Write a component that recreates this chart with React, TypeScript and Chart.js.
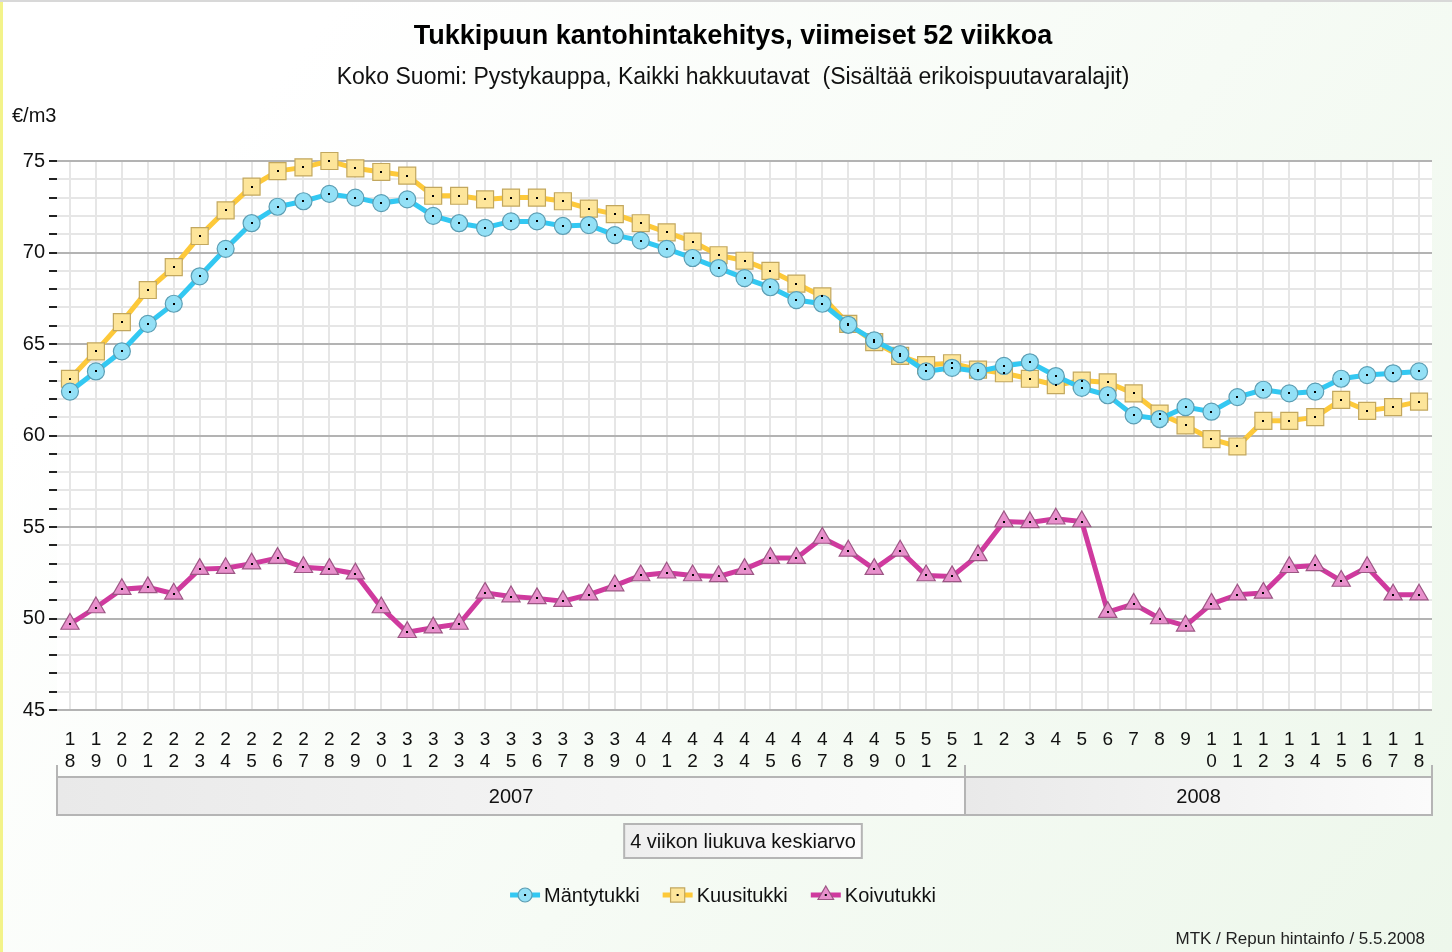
import React, { useEffect, useRef } from 'react';
import { Chart, registerables } from 'chart.js';

Chart.register(...registerables);

const FONT = "'Liberation Sans', Arial, Helvetica, sans-serif";

const weeks2007 = [18, 19, 20, 21, 22, 23, 24, 25, 26, 27, 28, 29, 30, 31, 32, 33, 34, 35, 36, 37, 38, 39, 40, 41, 42, 43, 44, 45, 46, 47, 48, 49, 50, 51, 52];
const weeks2008 = [1, 2, 3, 4, 5, 6, 7, 8, 9, 10, 11, 12, 13, 14, 15, 16, 17, 18];
const yearLabels = ['2007', '2008'];
const seriesNames = ['Mäntytukki', 'Kuusitukki', 'Koivutukki'];

const mantytukki = [
  62.4, 63.5, 64.6, 66.1, 67.2, 68.7, 70.2, 71.6, 72.5, 72.8, 73.2, 73.0, 72.7, 72.9, 72.0, 71.6, 71.35,
  71.7, 71.7, 71.45, 71.5, 70.95, 70.65, 70.2, 69.7, 69.15, 68.6, 68.1, 67.4, 67.2, 66.05, 65.2, 64.45, 63.5, 63.7,
  63.5, 63.8, 64.0, 63.25, 62.6, 62.2, 61.1, 60.9, 61.55, 61.3, 62.1, 62.5, 62.3, 62.4, 63.1, 63.3, 63.4, 63.5,
];
const kuusitukki = [
  63.1, 64.6, 66.2, 67.95, 69.2, 70.9, 72.3, 73.6, 74.45, 74.65, 75.0, 74.6, 74.4, 74.2, 73.1, 73.1, 72.9,
  73.0, 73.0, 72.8, 72.4, 72.1, 71.6, 71.1, 70.6, 69.85, 69.55, 69.0, 68.3, 67.6, 66.1, 65.1, 64.35, 63.85, 63.95,
  63.6, 63.4, 63.1, 62.75, 63.0, 62.9, 62.3, 61.2, 60.55, 59.8, 59.4, 60.8, 60.8, 61.0, 61.95, 61.35, 61.55, 61.85,
];
const koivutukki = [
  49.7, 50.6, 51.6, 51.7, 51.35, 52.7, 52.75, 53.0, 53.3, 52.8, 52.7, 52.45, 50.6, 49.25, 49.5, 49.7, 51.4,
  51.2, 51.1, 50.95, 51.3, 51.8, 52.35, 52.5, 52.35, 52.3, 52.7, 53.3, 53.3, 54.4, 53.7, 52.7, 53.7, 52.35, 52.3,
  53.45, 55.3, 55.25, 55.45, 55.3, 50.35, 50.8, 50.0, 49.6, 50.8, 51.3, 51.4, 52.8, 52.9, 52.05, 52.8, 51.3, 51.3,
];

const titleText = 'Tukkipuun kantohintakehitys, viimeiset 52 viikkoa';
const subtitleText = 'Koko Suomi: Pystykauppa, Kaikki hakkuutavat  (Sisältää erikoispuutavaralajit)';
const unitText = '€/m3';
const noteText = '4 viikon liukuva keskiarvo';
const creditText = 'MTK / Repun hintainfo / 5.5.2008';

const lineColors = ['#33c8f2', '#fdc93a', '#cf3a9e'];
const pointFills = ['#93e0f6', '#fde59a', '#e890cc'];
const pointBorders = ['#5b9db3', '#c2a75e', '#9c5684'];
const pointStyles = ['circle', 'rect', 'triangle'];
const pointRadii = [8.5, 12, 10.5];

const xLabels = [...weeks2007, ...weeks2008].map((w) => String(w).split(''));
const seriesData = [mantytukki, kuusitukki, koivutukki];

function drawMarker(ctx: CanvasRenderingContext2D, style: string, x: number, y: number, r: number, fill: string, stroke: string) {
  ctx.save();
  ctx.fillStyle = fill;
  ctx.strokeStyle = stroke;
  ctx.lineWidth = 1.2;
  ctx.beginPath();
  if (style === 'circle') {
    ctx.arc(x, y, r, 0, Math.PI * 2);
  } else if (style === 'rect') {
    const s = r * Math.SQRT1_2;
    ctx.rect(x - s, y - s, 2 * s, 2 * s);
  } else {
    ctx.moveTo(x, y - r);
    ctx.lineTo(x + r * 0.866, y + r * 0.5);
    ctx.lineTo(x - r * 0.866, y + r * 0.5);
    ctx.closePath();
  }
  ctx.fill();
  ctx.stroke();
  ctx.fillStyle = '#000';
  ctx.fillRect(x - 1, y - 1, 2, 2);
  ctx.restore();
}

const decorPlugin = {
  id: 'decor',
  beforeDraw(chart: any) {
    const { ctx, width, height, chartArea } = chart;
    ctx.save();
    const g = ctx.createLinearGradient(300, 50, width, height);
    g.addColorStop(0, '#ffffff');
    g.addColorStop(1, '#edf7eb');
    ctx.fillStyle = g;
    ctx.fillRect(0, 0, width, height);
    ctx.fillStyle = '#ffffff';
    ctx.fillRect(chartArea.left, chartArea.top, chartArea.right - chartArea.left, chartArea.bottom - chartArea.top);
    ctx.fillStyle = '#f3f38a';
    ctx.fillRect(0, 0, 3, height);
    ctx.fillStyle = '#d8d8d8';
    ctx.fillRect(0, 0, width, 2);
    ctx.restore();
  },
  afterDatasetsDraw(chart: any) {
    const { ctx } = chart;
    ctx.save();
    ctx.fillStyle = '#000';
    chart.data.datasets.forEach((_: any, i: number) => {
      const meta = chart.getDatasetMeta(i);
      meta.data.forEach((pt: any) => {
        ctx.fillRect(Math.round(pt.x) - 1, Math.round(pt.y) - 1, 2, 2);
      });
    });
    ctx.restore();
  },
  afterDraw(chart: any) {
    const { ctx, chartArea } = chart;
    const xs = chart.scales.x;
    ctx.save();
    ctx.fillStyle = '#111';
    ctx.font = `20px ${FONT}`;
    ctx.textAlign = 'left';
    ctx.textBaseline = 'middle';
    ctx.fillText(unitText, 12, 116);

    const n2007 = weeks2007.length;
    const split = (xs.getPixelForTick(n2007 - 1) + xs.getPixelForTick(n2007)) / 2;
    const bands = [
      [chartArea.left, split, yearLabels[0]],
      [split, chartArea.right, yearLabels[1]],
    ] as [number, number, string][];
    const bTop = chartArea.bottom + 67;
    const bBot = chartArea.bottom + 105;
    bands.forEach(([l, r, t]) => {
      const gg = ctx.createLinearGradient(l, 0, r, 0);
      gg.addColorStop(0, '#e9e9e9');
      gg.addColorStop(1, '#fbfbfb');
      ctx.fillStyle = gg;
      ctx.fillRect(l, bTop, r - l, bBot - bTop);
      ctx.strokeStyle = '#b5b5b5';
      ctx.lineWidth = 2;
      ctx.strokeRect(l, bTop, r - l, bBot - bTop);
      ctx.fillStyle = '#111';
      ctx.font = `20px ${FONT}`;
      ctx.textAlign = 'center';
      ctx.fillText(t, (l + r) / 2, (bTop + bBot) / 2 + 1);
    });
    ctx.strokeStyle = '#b5b5b5';
    ctx.lineWidth = 2;
    [chartArea.left, split, chartArea.right].forEach((x) => {
      ctx.beginPath();
      ctx.moveTo(x, chartArea.bottom + 55);
      ctx.lineTo(x, bTop);
      ctx.stroke();
    });

    ctx.font = `20px ${FONT}`;
    const nw = ctx.measureText(noteText).width + 12;
    const cx = 743;
    const ny = 824;
    const ng = ctx.createLinearGradient(cx - nw / 2, 0, cx + nw / 2, 0);
    ng.addColorStop(0, '#eeeeee');
    ng.addColorStop(1, '#fcfcfc');
    ctx.fillStyle = ng;
    ctx.fillRect(cx - nw / 2, ny, nw, 34);
    ctx.strokeStyle = '#b5b5b5';
    ctx.strokeRect(cx - nw / 2, ny, nw, 34);
    ctx.fillStyle = '#111';
    ctx.textAlign = 'center';
    ctx.fillText(noteText, cx, ny + 18);

    const itemGap = 23;
    const markW = 30;
    const widths = seriesNames.map((s) => markW + 4 + ctx.measureText(s).width);
    const total = widths.reduce((a, b) => a + b, 0) + itemGap * (seriesNames.length - 1);
    let lx = 723 - total / 2;
    const ly = 895;
    seriesNames.forEach((name, i) => {
      ctx.strokeStyle = lineColors[i];
      ctx.lineWidth = 5;
      ctx.beginPath();
      ctx.moveTo(lx, ly);
      ctx.lineTo(lx + markW, ly);
      ctx.stroke();
      drawMarker(ctx, pointStyles[i], lx + markW / 2, ly, i === 0 ? 7 : i === 1 ? 10 : 9, pointFills[i], pointBorders[i]);
      ctx.fillStyle = '#111';
      ctx.font = `20px ${FONT}`;
      ctx.textAlign = 'left';
      ctx.textBaseline = 'middle';
      ctx.fillText(name, lx + markW + 4, ly + 1);
      lx += widths[i] + itemGap;
    });

    ctx.font = `17px ${FONT}`;
    ctx.textAlign = 'right';
    ctx.fillStyle = '#222';
    ctx.fillText(creditText, 1425, 939);
    ctx.restore();
  },
};

export default function App() {
  const ref = useRef<HTMLCanvasElement | null>(null);
  useEffect(() => {
    if (!ref.current) return;
    const chart = new Chart(ref.current, {
      type: 'line',
      data: {
        labels: xLabels,
        datasets: seriesNames.map((name, i) => ({
          label: name,
          data: seriesData[i],
          borderColor: lineColors[i],
          backgroundColor: pointFills[i],
          borderWidth: 5,
          pointStyle: pointStyles[i],
          pointRadius: pointRadii[i],
          pointBackgroundColor: pointFills[i],
          pointBorderColor: pointBorders[i],
          pointBorderWidth: 1.2,
          tension: 0,
          fill: false,
          clip: false,
        })),
      },
      options: {
        responsive: false,
        animation: false,
        devicePixelRatio: 1,
        layout: { padding: { left: 14, right: 0, top: 0, bottom: 0 } },
        plugins: {
          legend: { display: false },
          tooltip: { enabled: false },
          title: {
            display: true,
            text: titleText,
            color: '#000',
            font: { size: 27, weight: 'bold', family: FONT, lineHeight: 1.2 },
            padding: { top: 20, bottom: 8 },
          },
          subtitle: {
            display: true,
            text: subtitleText,
            color: '#111',
            font: { size: 23, family: FONT, lineHeight: 1.2 },
            padding: { top: 3.8, bottom: 69.2 },
          },
        },
        scales: {
          x: {
            type: 'category',
            offset: true,
            grid: { offset: false, color: '#e6e6e6', lineWidth: 2, drawTicks: false },
            border: { display: false },
            ticks: {
              autoSkip: false,
              maxRotation: 0,
              minRotation: 0,
              color: '#111',
              padding: 18,
              font: { size: 19, family: FONT, lineHeight: 1.2 },
            },
            afterFit: (s: any) => {
              s.height = 242;
            },
          },
          y: {
            min: 45,
            max: 75,
            border: { display: false },
            grid: {
              color: (c: any) => (c.tick && c.tick.value % 5 === 0 ? '#b3b3b3' : '#e6e6e6'),
              lineWidth: 2,
              tickColor: '#222',
              tickLength: 8,
              tickWidth: 2,
            },
            ticks: {
              stepSize: 1,
              autoSkip: false,
              color: '#111',
              padding: 4,
              font: { size: 20, family: FONT },
              callback: (v: any) => (Number(v) % 5 === 0 ? String(v) : ''),
            },
            afterFit: (s: any) => {
              s.width = 43;
            },
          },
          yRight: {
            position: 'right',
            min: 45,
            max: 75,
            display: true,
            border: { display: false },
            grid: { drawOnChartArea: false, drawTicks: false, display: false },
            ticks: { display: false },
            afterFit: (s: any) => {
              s.width = 20;
            },
          },
        },
      },
      plugins: [decorPlugin],
    } as any);
    return () => chart.destroy();
  }, []);
  return (
    <div style={{ position: 'fixed', left: 0, top: 0, width: 1452, height: 952 }}>
      <canvas ref={ref} width={1452} height={952} style={{ width: 1452, height: 952, display: 'block' }} />
    </div>
  );
}
